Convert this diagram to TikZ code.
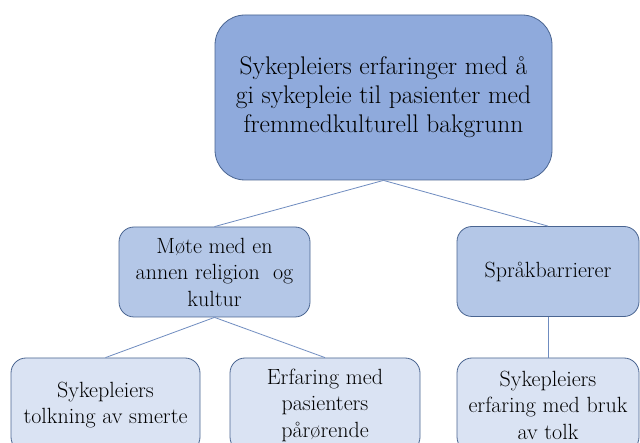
\documentclass[tikz,border=0pt]{standalone}
\definecolor{topfill}{HTML}{8FAADC}
\definecolor{midfill}{HTML}{B4C7E7}
\definecolor{lowfill}{HTML}{DAE3F3}
\definecolor{edgecol}{HTML}{4A6591}
\definecolor{linkcol}{HTML}{6F8CC0}
\tikzset{
  box/.style={draw=edgecol, line width=0.8pt, rounded corners=#1, align=center,
    inner sep=0pt, text=black},
  topbox/.style={box=30pt, fill=topfill, minimum width=337pt, minimum height=165pt,
    font=\fontsize{25.5}{29}\selectfont},
  midbox/.style={box=15pt, fill=midfill, minimum height=90pt,
    font=\fontsize{22}{26.5}\selectfont},
  lowbox/.style={box=15pt, fill=lowfill, minimum height=94pt,
    font=\fontsize{22}{26.5}\selectfont},
  link/.style={draw=linkcol, line width=0.8pt}
}
\begin{document}
\begin{tikzpicture}[x=1pt,y=-1pt]
\useasboundingbox (0,0) rectangle (640,443);
\clip (0,0) rectangle (640,443);
\fill[white] (0,0) rectangle (640,443);
\node[topbox] (top) at (383.5,97.5) {Sykepleiers erfaringer med å\\gi sykepleie til pasienter med\\fremmedkulturell bakgrunn};
\node[midbox, minimum width=191pt] (mote) at (214.5,272) {Møte med en\\annen religion\ \ og\\kultur};
\node[midbox, minimum width=182pt] (sprak) at (548,271.5) {Språkbarrierer};
\node[lowbox, minimum width=189pt] (smerte) at (105.5,405) {Sykepleiers\\tolkning av smerte};
\node[lowbox, minimum width=190pt] (parorende) at (325,405) {Erfaring med\\pasienters\\pårørende};
\node[lowbox, minimum width=182pt] (tolk) at (548,405) {Sykepleiers\\erfaring med bruk\\av tolk};
\draw[link] (top.south) -- (mote.north);
\draw[link] (top.south) -- (sprak.north);
\draw[link] (mote.south) -- (smerte.north);
\draw[link] (mote.south) -- (parorende.north);
\draw[link] (sprak.south) -- (tolk.north);
\end{tikzpicture}
\end{document}
